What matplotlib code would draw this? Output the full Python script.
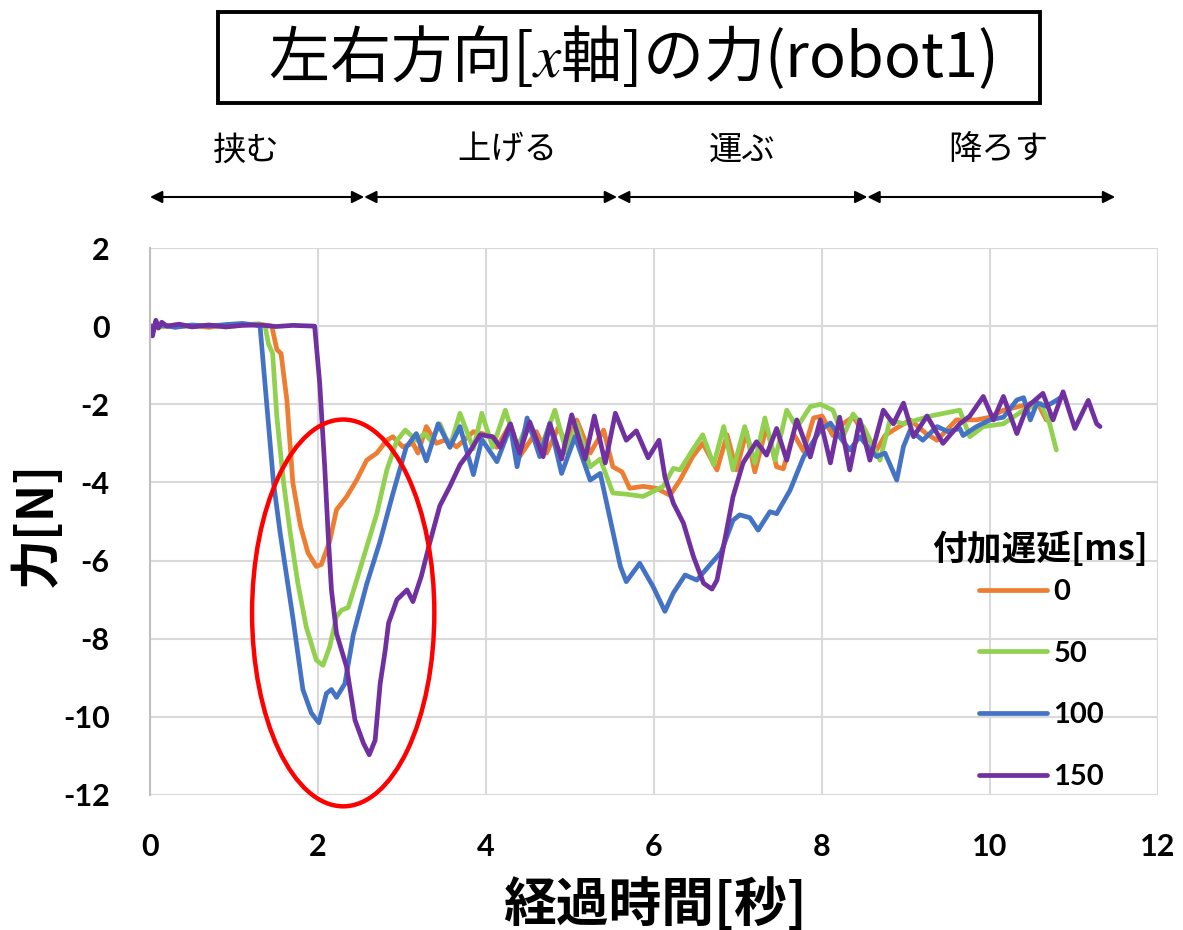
import matplotlib
matplotlib.use("Agg")
import matplotlib.pyplot as plt
from matplotlib.patches import Ellipse, Rectangle
from matplotlib import transforms

plt.rcParams["mathtext.fontset"] = "stix"
plt.rcParams["axes.unicode_minus"] = False

# ---- data ----
t_0 = [0, 0.15, 0.3, 0.5, 0.7, 0.9, 1.1, 1.3, 1.45, 1.51, 1.56, 1.63, 1.70, 1.79, 1.88, 1.98,
       2.04, 2.14, 2.22, 2.34, 2.46, 2.58, 2.70, 2.82, 2.89, 3.01, 3.13, 3.19, 3.29, 3.41, 3.53,
       3.65, 3.75, 3.85, 4.02, 4.13, 4.29, 4.40, 4.60, 4.72, 4.86, 4.96, 5.08, 5.24, 5.40, 5.51,
       5.62, 5.71, 5.87, 6.03, 6.19, 6.31, 6.46, 6.58, 6.75, 6.87, 6.98, 7.10, 7.20, 7.34, 7.46,
       7.54, 7.66, 7.78, 7.90, 8.00, 8.13, 8.25, 8.37, 8.52, 8.65, 8.75, 8.85, 9.05, 9.24, 9.37,
       9.60, 9.84, 10.00, 10.16, 10.32, 10.56, 10.67, 10.72]
f_0 = [0, 0.03, -0.02, 0.02, -0.03, 0.02, 0.04, 0.05, 0.0, -0.6, -0.7, -1.9, -4.0, -5.1, -5.8, -6.15,
       -6.1, -5.5, -4.7, -4.37, -3.94, -3.43, -3.25, -2.92, -2.83, -3.09, -3.0, -3.25, -2.57, -3.0, -2.9,
       -3.09, -2.9, -2.7, -2.78, -3.1, -2.5, -3.34, -2.7, -3.25, -2.6, -3.0, -2.4, -3.25, -2.66, -3.6,
       -3.73, -4.15, -4.1, -4.15, -4.33, -3.94, -3.34, -3.0, -3.68, -2.78, -3.68, -2.7, -3.73, -2.57, -3.6,
       -3.65, -2.75, -3.2, -2.35, -2.3, -2.8, -2.5, -2.32, -2.8, -3.17, -2.8, -2.66, -2.4, -2.75, -2.92,
       -2.4, -2.4, -2.33, -2.15, -2.07, -1.94, -2.4, -2.3]

t_50 = [0, 0.15, 0.3, 0.5, 0.7, 0.9, 1.1, 1.3, 1.37, 1.41, 1.46, 1.51, 1.59, 1.67, 1.76, 1.86, 1.98,
        2.06, 2.14, 2.22, 2.28, 2.36, 2.46, 2.58, 2.70, 2.82, 2.94, 3.04, 3.17, 3.27, 3.35, 3.45,
        3.57, 3.69, 3.85, 3.95, 4.08, 4.23, 4.37, 4.50, 4.64, 4.82, 4.96, 5.08, 5.24, 5.36, 5.51,
        5.67, 5.87, 5.99, 6.11, 6.23, 6.31, 6.46, 6.58, 6.71, 6.83, 6.94, 7.08, 7.20, 7.32, 7.44,
        7.58, 7.70, 7.86, 7.98, 8.13, 8.25, 8.37, 8.50, 8.69, 8.81, 8.97, 9.29, 9.64, 9.76, 9.92,
        10.16, 10.40, 10.60, 10.71, 10.79]
f_50 = [0, -0.02, 0.03, -0.01, 0.02, -0.02, 0.03, 0.06, 0.0, -0.45, -0.7, -2.32, -4.0, -5.3, -6.58, -7.7, -8.55,
        -8.68, -8.2, -7.44, -7.27, -7.2, -6.5, -5.65, -4.8, -3.68, -2.92, -2.66, -2.92, -2.75, -2.95, -2.5,
        -3.1, -2.23, -3.14, -2.23, -3.1, -2.15, -3.1, -2.5, -3.2, -2.15, -3.25, -2.5, -3.6, -3.4, -4.27,
        -4.3, -4.36, -4.23, -4.1, -3.64, -3.68, -3.17, -2.78, -3.55, -2.57, -3.68, -2.57, -3.5, -2.35, -3.43,
        -2.15, -2.6, -2.06, -2.0, -2.15, -2.83, -2.25, -2.6, -3.43, -2.4, -2.5, -2.3, -2.15, -2.83, -2.57,
        -2.5, -2.15, -1.97, -2.5, -3.17]

t_100 = [0, 0.15, 0.3, 0.5, 0.7, 0.9, 1.1, 1.25, 1.31, 1.47, 1.55, 1.70, 1.82, 1.92, 2.01, 2.10, 2.16,
         2.22, 2.32, 2.42, 2.58, 2.74, 2.89, 3.05, 3.17, 3.29, 3.43, 3.57, 3.69, 3.85, 3.95, 4.13,
         4.29, 4.37, 4.49, 4.64, 4.76, 4.90, 5.06, 5.24, 5.36, 5.48, 5.60, 5.67, 5.83, 5.99, 6.13,
         6.23, 6.37, 6.51, 6.67, 6.80, 6.94, 7.02, 7.14, 7.24, 7.38, 7.46, 7.62, 7.78, 7.98, 8.10,
         8.21, 8.33, 8.45, 8.55, 8.65, 8.75, 8.89, 8.97, 9.05, 9.20, 9.37, 9.50, 9.64, 9.68, 9.84,
         10.00, 10.16, 10.32, 10.40, 10.48, 10.56, 10.67, 10.79, 10.84]
f_100 = [0, 0.02, -0.03, 0.03, 0.0, 0.04, 0.07, 0.03, 0.0, -4.0, -5.3, -7.45, -9.3, -9.9, -10.15, -9.4, -9.3,
         -9.5, -9.15, -7.9, -6.6, -5.5, -4.3, -3.1, -2.75, -3.45, -2.5, -3.1, -2.57, -3.8, -2.9, -3.47,
         -2.57, -3.6, -2.35, -3.34, -2.49, -3.77, -2.83, -3.94, -3.77, -4.96, -6.15, -6.54, -6.07, -6.67, -7.3,
         -6.83, -6.37, -6.5, -6.1, -5.78, -4.97, -4.83, -4.9, -5.22, -4.75, -4.8, -4.2, -3.35, -2.66, -2.48,
         -2.83, -3.17, -2.83, -3.1, -3.34, -3.25, -3.94, -3.08, -2.66, -2.92, -2.57, -2.7, -2.62, -2.8, -2.57,
         -2.4, -2.33, -1.89, -1.83, -2.4, -1.97, -2.05, -1.9, -1.83]

t_150 = [0, 0.03, 0.07, 0.10, 0.14, 0.2, 0.35, 0.5, 0.7, 0.9, 1.1, 1.3, 1.5, 1.7, 1.96, 2.02, 2.08,
         2.12, 2.16, 2.22, 2.34, 2.44, 2.54, 2.61, 2.68, 2.74, 2.80, 2.84, 2.94, 3.06, 3.13, 3.23,
         3.33, 3.45, 3.57, 3.69, 3.81, 3.93, 4.08, 4.17, 4.29, 4.40, 4.52, 4.68, 4.76, 4.90, 5.02,
         5.18, 5.29, 5.42, 5.54, 5.67, 5.79, 5.93, 6.06, 6.13, 6.23, 6.35, 6.47, 6.59, 6.69, 6.75,
         6.85, 6.94, 7.06, 7.22, 7.34, 7.46, 7.58, 7.70, 7.86, 7.98, 8.10, 8.21, 8.33, 8.45, 8.57,
         8.73, 8.85, 8.97, 9.09, 9.25, 9.44, 9.64, 9.76, 9.92, 10.04, 10.16, 10.32, 10.44, 10.63,
         10.75, 10.87, 11.01, 11.17, 11.27, 11.31]
f_150 = [0, -0.25, 0.15, -0.05, 0.1, 0.0, 0.05, -0.02, 0.03, -0.02, 0.02, 0.03, -0.01, 0.02, 0.0, -1.45, -3.6,
         -5.3, -6.75, -7.86, -8.72, -10.08, -10.67, -10.97, -10.6, -9.15, -8.3, -7.6, -7.0, -6.75, -7.05, -6.4,
         -5.55, -4.6, -4.1, -3.55, -3.2, -2.78, -2.83, -3.1, -2.5, -3.25, -2.45, -3.34, -2.5, -3.4, -2.27,
         -3.4, -2.3, -3.5, -2.23, -2.92, -2.68, -3.37, -2.92, -3.86, -4.53, -5.04, -5.9, -6.58, -6.73, -6.5,
         -5.39, -4.37, -3.5, -2.96, -3.3, -2.62, -3.43, -2.4, -3.35, -2.4, -3.5, -2.33, -3.68, -2.4, -3.43,
         -2.15, -2.5, -1.97, -2.83, -2.3, -3.0, -2.5, -2.3, -1.8, -2.4, -1.8, -2.75, -2.07, -1.72,
         -2.4, -1.68, -2.62, -1.9, -2.5, -2.57]

delays = ["0", "50", "100", "150"]
colors = ["#ED7D31", "#92D050", "#4472C4", "#7030A0"]

phases = ["挟む", "上げる", "運ぶ", "降ろす"]
phase_edges = [0, 2.55, 5.56, 8.54, 11.49]
phase_label_x = [1.15, 4.25, 7.05, 10.1]

# ---- figure ----
W, H = 1183, 930
fig = plt.figure(figsize=(W / 100, H / 100), dpi=100)
ax = fig.add_axes([150 / W, 1 - 795 / H, 1008 / W, 547 / H])

num_font = ["Lato", "Noto Sans CJK JP", "DejaVu Sans"]
jp_font = ["Noto Sans CJK JP", "DejaVu Sans"]

for t, f, lab, c in zip([t_0, t_50, t_100, t_150], [f_0, f_50, f_100, f_150], delays, colors):
    ax.plot(t, f, color=c, lw=3.4, label=lab, solid_joinstyle="round", solid_capstyle="round")

ax.set_xlim(0, 12)
ax.set_ylim(-12, 2)
ax.set_xticks(range(0, 13, 2))
ax.set_yticks(range(-12, 3, 2))
ax.grid(True, color="#d9d9d9", lw=1.5)
ax.set_axisbelow(True)
for s in ["top", "right", "bottom"]:
    ax.spines[s].set_visible(False)
ax.spines["left"].set_color("#bfbfbf")
ax.spines["left"].set_linewidth(1.5)
ax.tick_params(length=0)
ax.tick_params(axis="y", pad=29)
ax.tick_params(axis="x", pad=27)
for lbl in ax.get_xticklabels() + ax.get_yticklabels():
    lbl.set_fontfamily(num_font)
    lbl.set_fontweight("bold")
    lbl.set_fontsize(22)

ax.set_xlabel("経過時間[秒]", fontsize=38, fontweight="bold", family=jp_font)
ax.xaxis.set_label_coords(0.501, -0.152)
ax.set_ylabel("力[N]", fontsize=36, fontweight="bold", family=jp_font)
ax.yaxis.set_label_coords(-0.087, 0.494)

# red ellipse around the first dip
ax.add_patch(Ellipse((2.30, -7.34), 2.17, 9.9, fill=False, ec="#FF0000", lw=3.2, clip_on=False, zorder=5))

# legend (title drawn separately so its gap can differ from the row spacing)
ax.legend(loc="upper left", bbox_to_anchor=(979 / W, 1 - 579 / H), bbox_transform=fig.transFigure,
          frameon=False, borderpad=0, borderaxespad=0, handlelength=2.33, handletextpad=0.22,
          labelspacing=1.22, prop=dict(family=num_font, weight="bold", size=21))
fig.text(1040 / W, 1 - 549 / H, "付加遅延[ms]", fontsize=25, fontweight="bold", family=jp_font,
         ha="center", va="center")

# title box
fig.add_artist(Rectangle((218 / W, 1 - 103 / H), 822 / W, 91 / H, transform=fig.transFigure,
                         fill=False, ec="black", lw=2.8))
fig.text(631 / W, 1 - 57 / H, "左右方向[$x$軸]の力(robot1)", fontsize=44, family=jp_font,
         ha="center", va="center")

# phase arrows and labels
trans = transforms.blended_transform_factory(ax.transData, fig.transFigure)
for a, b in zip(phase_edges[:-1], phase_edges[1:]):
    ax.annotate("", xy=(b, 1 - 197 / H), xytext=(a, 1 - 197 / H), xycoords=trans, textcoords=trans,
                arrowprops=dict(arrowstyle="<|-|>", color="black", lw=1.5, mutation_scale=18,
                                shrinkA=0, shrinkB=0))
for x, p in zip(phase_label_x, phases):
    ax.text(x, 1 - 150 / H, p, transform=trans, fontsize=24, family=jp_font, ha="center", va="center")

fig.savefig("out.png", dpi=100)
